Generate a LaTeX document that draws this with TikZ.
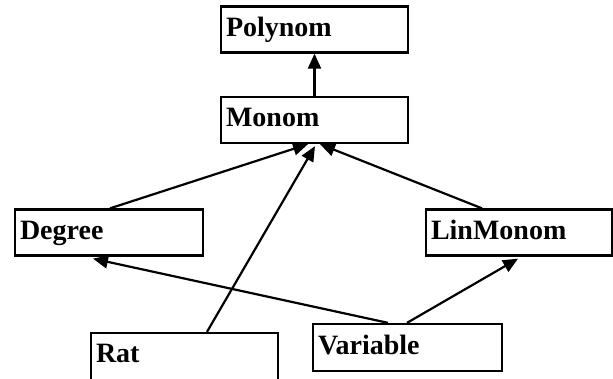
\documentclass[tikz,border=0pt]{standalone}
\usepackage{fontspec}
\setmainfont{Liberation Serif}
\usetikzlibrary{arrows.meta}
\tikzset{
  cls/.style={draw, line width=2.3pt, fill=white, minimum height=46pt,
    text width=#1, align=left, inner xsep=5pt, inner ysep=0pt,
    text height=19pt, text depth=6pt,
    font=\fontsize{28}{32}\selectfont\bfseries},
  inh/.style={line width=2.2pt, -{Triangle[length=15pt,width=13pt]}}
}
\begin{document}
\begin{tikzpicture}[x=1pt,y=-1pt]
\useasboundingbox (0,0) rectangle (613,378);
\node[cls=177pt] (Polynom) at (314.5,29.5) {Polynom};
\node[cls=177pt] (Monom) at (314.5,120) {Monom};
\node[cls=178pt] (Degree) at (109,232.5) {Degree};
\node[cls=176pt] (LinMonom) at (519,232.5) {LinMonom};
\node[cls=177pt, minimum height=54pt, text depth=14pt] (Rat) at (184.5,360) {Rat};
\node[cls=179pt, minimum height=47pt] (Variable) at (407.5,347.5) {Variable};
\draw[inh] (Monom.north) -- (Polynom.south);
\draw[inh] ([xshift=1pt]Degree.north) -- ([xshift=-6.5pt]Monom.south);
\draw[inh] ([xshift=22.5pt]Rat.north) -- ([xshift=0.5pt,yshift=-2pt]Monom.south);
\draw[inh] ([xshift=-37pt]LinMonom.north) -- ([xshift=5.5pt]Monom.south);
\draw[inh] ([xshift=-19.5pt]Variable.north) -- ([xshift=-16pt,yshift=-2pt]Degree.south);
\draw[inh] ([xshift=-0.5pt]Variable.north) -- ([xshift=-1pt,yshift=-2pt]LinMonom.south);
\end{tikzpicture}
\end{document}
